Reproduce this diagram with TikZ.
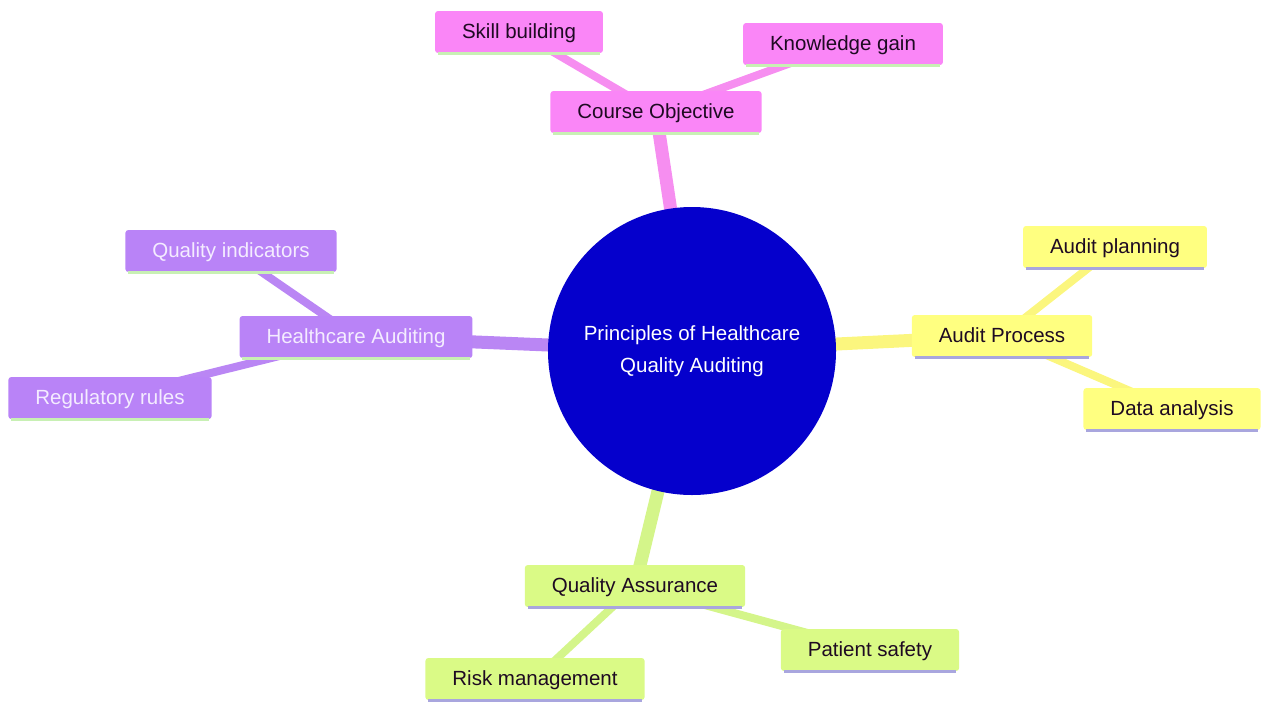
\documentclass[tikz,border=0pt]{standalone}
\usepackage{fontspec}
\setmainfont{Liberation Sans}
\usetikzlibrary{backgrounds}
\definecolor{pinkF}{HTML}{FA86F7}
\definecolor{pinkL}{HTML}{F68EF0}
\definecolor{purpF}{HTML}{B983F7}
\definecolor{purpL}{HTML}{BA86F4}
\definecolor{yelF}{HTML}{FFFF80}
\definecolor{yelL}{HTML}{FBF67E}
\definecolor{grnF}{HTML}{DAFA86}
\definecolor{grnL}{HTML}{D4F58A}
\definecolor{centF}{HTML}{0500CC}
\definecolor{edgeG}{HTML}{C8F0B4}
\definecolor{edgeV}{HTML}{A9A6DE}
\definecolor{darkT}{HTML}{1E0A22}
\definecolor{lightT}{HTML}{F4ECFF}
\tikzset{
  box/.style={rectangle, rounded corners=3pt, minimum height=42pt, inner xsep=27pt, inner ysep=0pt, text height=15pt, text depth=3pt, font=\fontsize{20.5}{24}\selectfont},
  pinkbox/.style={box, fill=pinkF, text=darkT},
  purpbox/.style={box, fill=purpF, text=lightT},
  yelbox/.style={box, fill=yelF, text=darkT},
  grnbox/.style={box, fill=grnF, text=darkT},
  mainlink/.style={line width=13pt},
  sublink/.style={line width=8pt},
  under/.style={line width=3pt}
}
\begin{document}
\begin{tikzpicture}[x=1pt,y=-1pt]
\useasboundingbox (0,0) rectangle (1261,702);
\node[circle, fill=centF, minimum size=288pt, inner sep=0pt, text=white, align=center, font=\fontsize{20.5}{32}\selectfont] (c) at (692,351) {Principles of Healthcare\\Quality Auditing};
% Course Objective branch
\node[pinkbox] (co) at (656,112) {Course Objective};
\node[pinkbox] (sb) at (519,32) {Skill building};
\node[pinkbox] (kg) at (843,44) {Knowledge gain};
% Healthcare Auditing branch
\node[purpbox] (ha) at (356,337) {Healthcare Auditing};
\node[purpbox] (qi) at (231,251) {Quality indicators};
\node[purpbox] (rr) at (110,398) {Regulatory rules};
% Audit Process branch
\node[yelbox] (ap) at (1002,336) {Audit Process};
\node[yelbox] (apl) at (1115,247) {Audit planning};
\node[yelbox] (da) at (1172,409) {Data analysis};
% Quality Assurance branch
\node[grnbox] (qa) at (635,586) {Quality Assurance};
\node[grnbox] (ps) at (870,650) {Patient safety};
\node[grnbox] (rm) at (535,679) {Risk management};
% bottom edges
\foreach \n in {co,sb,kg,ha,qi,rr}{
  \draw[under, edgeG] ([xshift=3pt]\n.south west) -- ([xshift=-3pt]\n.south east);
}
\foreach \n in {ap,apl,da,qa,ps,rm}{
  \draw[under, edgeV] ([xshift=3pt]\n.south west) -- ([xshift=-3pt]\n.south east);
}
\begin{scope}[on background layer]
\draw[mainlink, pinkL] (co.center) -- (c.center);
\draw[sublink, pinkL] (sb.center) -- (co.center);
\draw[sublink, pinkL] (kg.center) -- (co.center);
\draw[mainlink, purpL] (ha.center) -- (c.center);
\draw[sublink, purpL] (qi.center) -- (ha.center);
\draw[sublink, purpL] (rr.center) -- (ha.center);
\draw[mainlink, yelL] (ap.center) -- (c.center);
\draw[sublink, yelL] (apl.center) -- (ap.center);
\draw[sublink, yelL] (da.center) -- (ap.center);
\draw[mainlink, grnL] (qa.center) -- (c.center);
\draw[sublink, grnL] (ps.center) -- (qa.center);
\draw[sublink, grnL] (rm.center) -- (qa.center);
\end{scope}
\end{tikzpicture}
\end{document}
